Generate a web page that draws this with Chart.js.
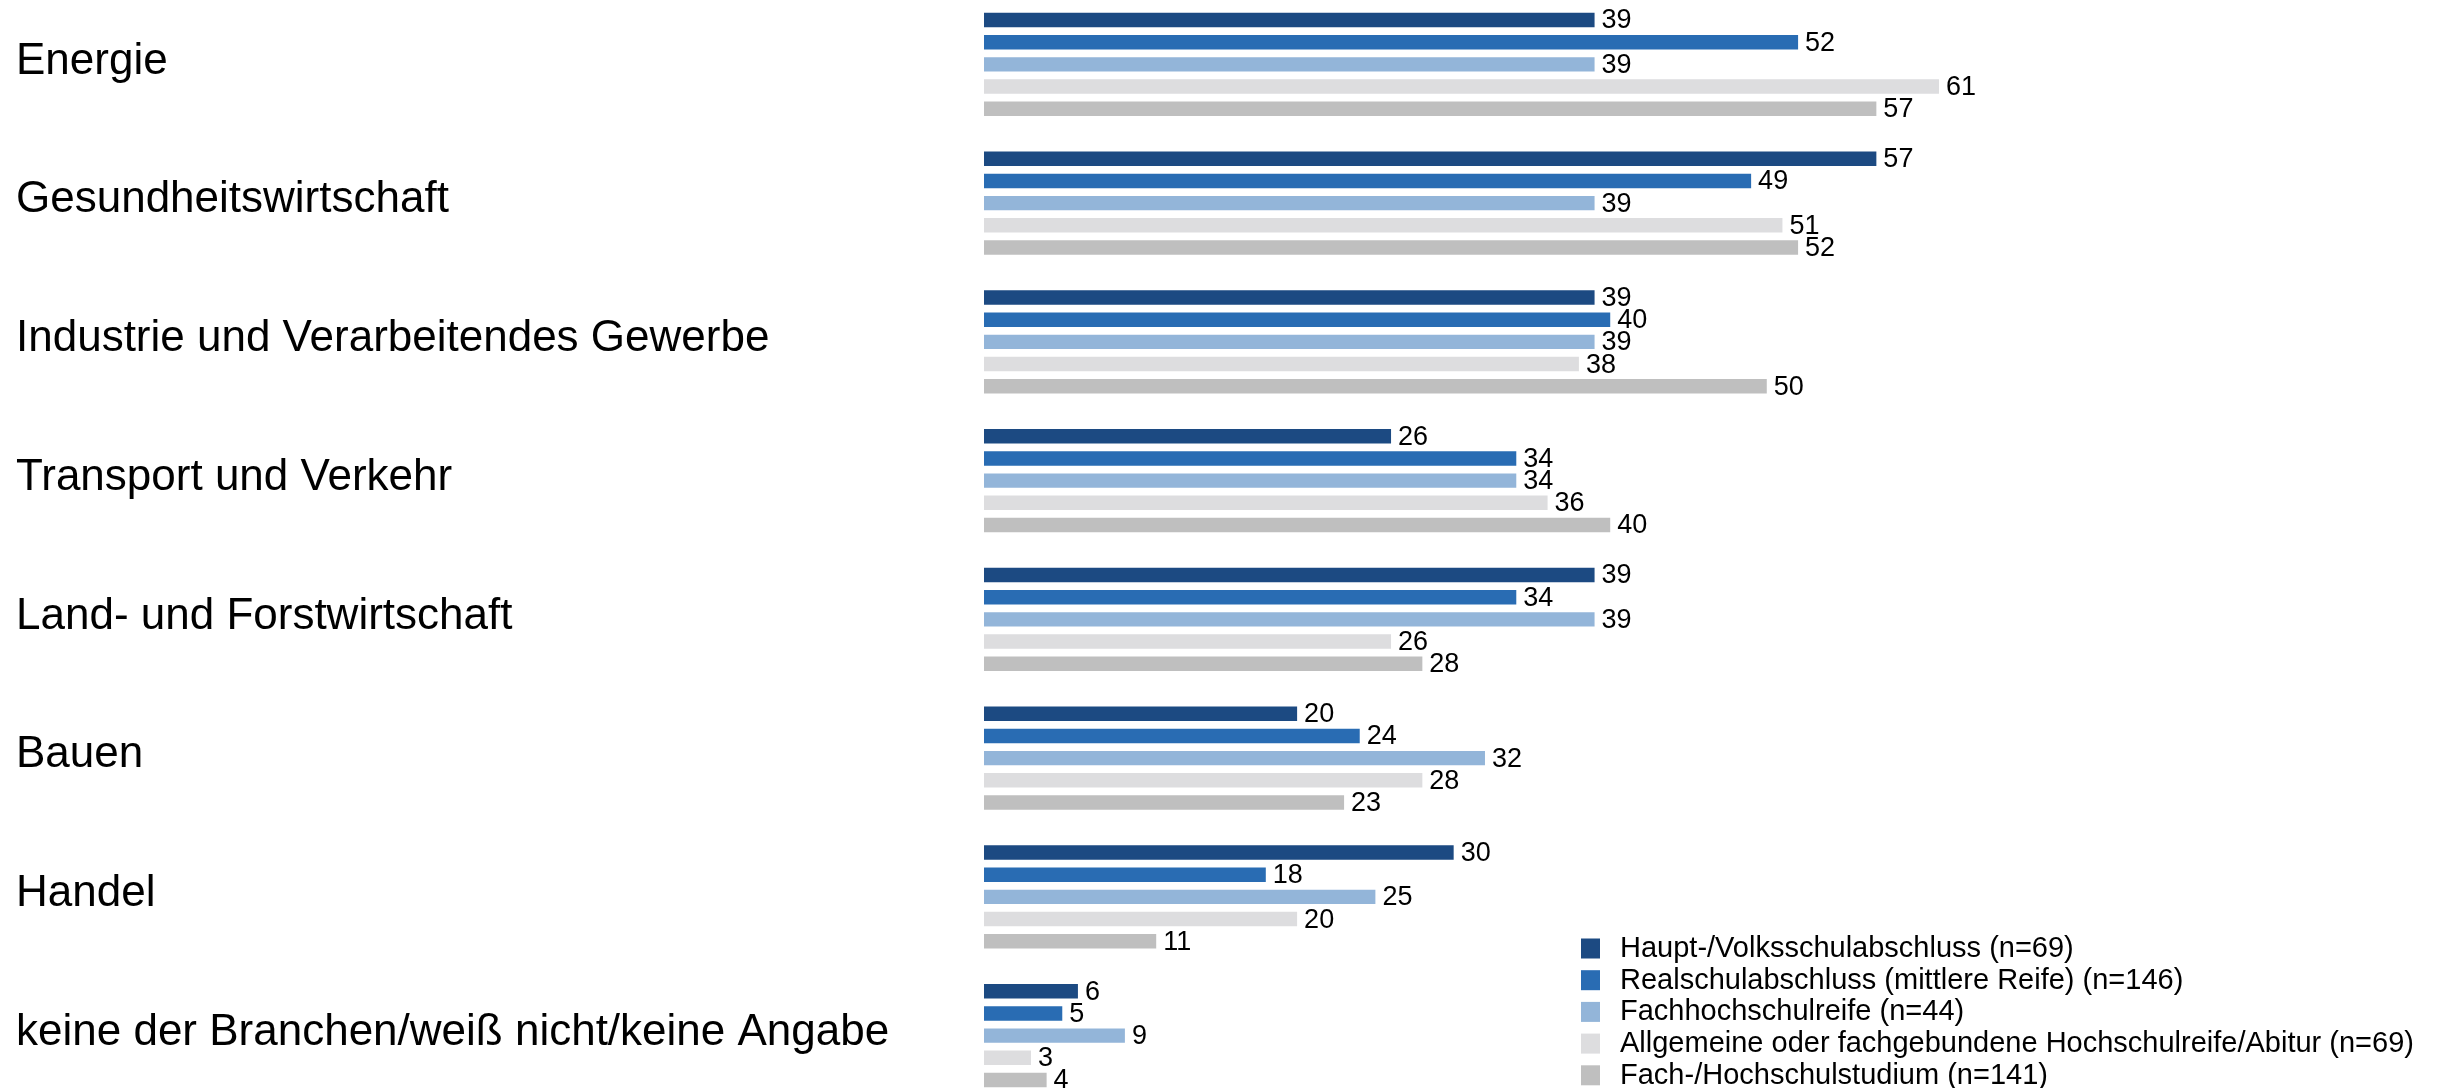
<!DOCTYPE html>
<html>
<head>
<meta charset="utf-8">
<script src="https://cdn.jsdelivr.net/npm/chart.js@4/dist/chart.umd.min.js"></script>
<style>
  html, body { margin: 0; padding: 0; background: #ffffff; overflow: hidden; }
  body { width: 2454px; height: 1088px; position: relative; }
  #wrap { position: absolute; left: 0; top: -27px; width: 2454px; height: 1154px; }
</style>
</head>
<body>
<div id="wrap"><canvas id="c"></canvas></div>
<script>
const categories = [
  "Energie",
  "Gesundheitswirtschaft",
  "Industrie und Verarbeitendes Gewerbe",
  "Transport und Verkehr",
  "Land- und Forstwirtschaft",
  "Bauen",
  "Handel",
  "keine der Branchen/weiß nicht/keine Angabe"
];
const seriesNames = [
  "Haupt-/Volksschulabschluss (n=69)",
  "Realschulabschluss (mittlere Reife) (n=146)",
  "Fachhochschulreife (n=44)",
  "Allgemeine oder fachgebundene Hochschulreife/Abitur (n=69)",
  "Fach-/Hochschulstudium (n=141)"
];
const hauptschule   = [39, 57, 39, 26, 39, 20, 30, 6];
const realschule    = [52, 49, 40, 34, 34, 24, 18, 5];
const fachhochreife = [39, 39, 39, 34, 39, 32, 25, 9];
const abitur        = [61, 51, 38, 36, 26, 28, 20, 3];
const studium       = [57, 52, 50, 40, 28, 23, 11, 4];
const seriesValues = [hauptschule, realschule, fachhochreife, abitur, studium];
const seriesColors = ["#1C4A82", "#296CB3", "#93B5D9", "#DDDDDF", "#BFBFBF"];

const FONT = "'Liberation Sans', Arial, Helvetica, sans-serif";

const valueLabels = {
  id: 'valueLabels',
  afterDatasetsDraw(chart) {
    const ctx = chart.ctx;
    ctx.save();
    ctx.font = "27px " + FONT;
    ctx.fillStyle = "#000000";
    ctx.textAlign = "left";
    ctx.textBaseline = "middle";
    chart.data.datasets.forEach((ds, di) => {
      const meta = chart.getDatasetMeta(di);
      meta.data.forEach((el, i) => {
        ctx.fillText(String(ds.data[i]), el.x + 7, el.y + 1);
      });
    });
    ctx.restore();
  }
};

const customLegend = {
  id: 'customLegend',
  afterDraw(chart) {
    const ctx = chart.ctx;
    ctx.save();
    ctx.font = "29px " + FONT;
    ctx.textAlign = "left";
    ctx.textBaseline = "middle";
    const x0 = 1581, y0 = 948 + 27, step = 31.7, sq = 19;
    chart.data.datasets.forEach((ds, i) => {
      const y = y0 + i * step;
      ctx.fillStyle = ds.backgroundColor;
      ctx.fillRect(x0, y - sq / 2, sq, sq + 1);
      ctx.fillStyle = "#000000";
      ctx.fillText(ds.label, x0 + 39, y + 1);
    });
    ctx.restore();
  }
};

new Chart(document.getElementById('c'), {
  type: 'bar',
  data: {
    labels: categories,
    datasets: seriesNames.map((name, i) => ({
      label: name,
      data: seriesValues[i],
      backgroundColor: seriesColors[i],
      borderWidth: 0,
      categoryPercentage: 0.8,
      barPercentage: 0.65
    }))
  },
  options: {
    indexAxis: 'y',
    responsive: true,
    maintainAspectRatio: false,
    animation: false,
    layout: { padding: { left: 16, right: 61, top: 0, bottom: 0 } },
    plugins: {
      legend: { display: false },
      tooltip: { enabled: false }
    },
    scales: {
      x: {
        display: false,
        min: 0,
        max: 90
      },
      y: {
        grid: { display: false, drawTicks: false },
        border: { display: false },
        ticks: {
          crossAlign: 'far',
          color: '#000000',
          padding: 0,
          labelOffset: -3,
          font: { family: FONT, size: 44, lineHeight: 1 }
        },
        afterFit(scale) { scale.width = 968; }
      }
    }
  },
  plugins: [valueLabels, customLegend]
});
</script>
</body>
</html>
